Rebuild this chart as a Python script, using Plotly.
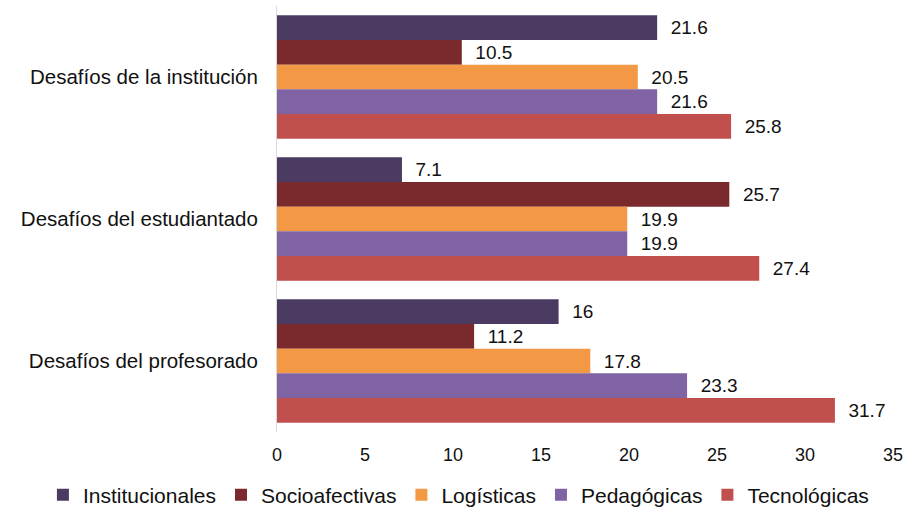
import plotly.graph_objects as go

categories = ["Desafíos de la institución", "Desafíos del estudiantado", "Desafíos del profesorado"]
series_names = ["Institucionales", "Socioafectivas", "Logísticas", "Pedagógicas", "Tecnológicas"]
institucionales = [21.6, 7.1, 16]
socioafectivas = [10.5, 25.7, 11.2]
logisticas = [20.5, 19.9, 17.8]
pedagogicas = [21.6, 19.9, 23.3]
tecnologicas = [25.8, 27.4, 31.7]
colors = ["#4B3A62", "#7A2A2C", "#F39845", "#7F63A2", "#C04F4D"]
x_ticks = [0, 5, 10, 15, 20, 25, 30, 35]

values = [institucionales, socioafectivas, logisticas, pedagogicas, tecnologicas]
FONT = "Liberation Sans, Arial, sans-serif"

fig = go.Figure()
for name, vals, col in zip(series_names, values, colors):
    fig.add_trace(go.Bar(
        y=categories, x=vals, name=name, orientation="h",
        marker=dict(color=col, line=dict(width=0)),
        text=["\u00a0\u00a0" + f"{v:g}" for v in vals], textposition="outside",
        textfont=dict(size=19, color="#111111", family=FONT),
        cliponaxis=False,
    ))

fig.update_layout(
    width=906, height=509,
    margin=dict(l=277, r=13, t=6, b=77, autoexpand=False),
    barmode="group", bargap=0.13, bargroupgap=0,
    plot_bgcolor="white", paper_bgcolor="white",
    font=dict(family=FONT, size=19, color="#111111"),
    xaxis=dict(range=[0, 35], tickvals=x_ticks, showgrid=False, zeroline=False,
               showline=False, ticks="", tickfont=dict(size=18), ticklabelstandoff=10,
               automargin=False),
    yaxis=dict(autorange="reversed", showgrid=False, showline=True, linecolor="#d9d9d9",
               linewidth=1, ticks="", tickfont=dict(size=20.5), ticklabelstandoff=14,
               automargin=False),
    legend=dict(orientation="h", xref="paper", yref="paper", x=-0.38, y=-0.148,
                xanchor="left", yanchor="middle", font=dict(size=21),
                itemwidth=30, tracegroupgap=0, traceorder="normal"),
)
fig.write_html("out.html")
